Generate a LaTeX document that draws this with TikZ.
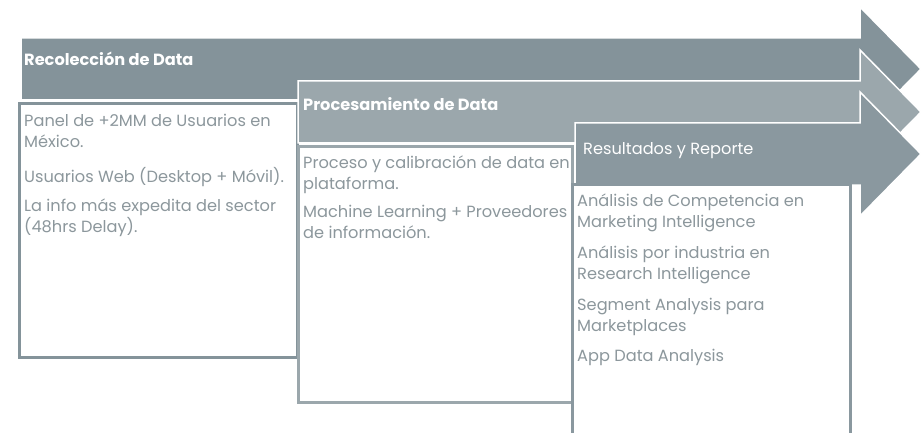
\documentclass[tikz,border=0pt]{standalone}
\usepackage{fontspec}
\setmainfont{Poppins}
\usepackage{xcolor}
\usetikzlibrary{positioning}
\definecolor{slatedark}{HTML}{84939A}
\definecolor{slatelight}{HTML}{9BA7AC}
\definecolor{slatemid}{HTML}{8A989F}
\definecolor{bodygray}{HTML}{8C979C}

\tikzset{
  phasearrow/.style={draw=white, line width=1.5pt, line join=miter},
  phasebox/.style={fill=white, line width=3pt},
  phasetitle/.style={anchor=base west, text=white, inner sep=0pt, font=\fontsize{16.2}{19}\selectfont},
  phasetext/.style={anchor=north west, text=bodygray, inner sep=0pt, align=left, font=\fontsize{16.2}{21}\selectfont},
}

\begin{document}
\begin{tikzpicture}[x=1pt,y=-1pt]
  \path[clip] (0,0) rectangle (921,433);
  \fill[white] (0,0) rectangle (921,433);

  % Recoleccion
  \filldraw[phasearrow, fill=slatedark] (21,38) -- (860,38) -- (860,7) -- (921,69) -- (860,131) -- (860,100) -- (21,100) -- cycle;
  \draw[phasebox, draw=slatedark] (19,104) rectangle (297,357);
  \node[phasetitle, font=\bfseries\fontsize{16.2}{19}\selectfont] (tit1) at (24,66) {Recolección de Data};
  % first baseline = top + 16
  \node[phasetext] (txt1) at (24,110) {\rule{0pt}{16pt}Panel de +2MM de Usuarios en\\México.\\[14pt]
    Usuarios Web (Desktop + Móvil).\\[8pt]
    La info más expedita del sector\\(48hrs Delay).};

  % Procesamiento
  \filldraw[phasearrow, fill=slatelight] (298,81) -- (860,81) -- (860,50) -- (921,112) -- (860,174) -- (860,143) -- (298,143) -- cycle;
  \draw[phasebox, draw=slatelight] (298,147) rectangle (572,402);
  \node[phasetitle, font=\bfseries\fontsize{16.2}{19}\selectfont] (tit2) at (303,111) {Procesamiento de Data};
  \node[phasetext] (txt2) at (303,152) {\rule{0pt}{16pt}Proceso y calibración de data en\\plataforma.\\[7pt]
    Machine Learning + Proveedores\\de información.};

  % Resultados
  \filldraw[phasearrow, fill=slatemid] (575,123) -- (860,123) -- (860,92) -- (921,154) -- (860,216) -- (860,185) -- (575,185) -- cycle;
  \draw[phasebox, draw=slatemid] (572,184) rectangle (850,445);
  \node[phasetitle] (tit3) at (583,154) {Resultados y Reporte};
  \node[phasetext] (txt3) at (577,190) {\rule{0pt}{16pt}Análisis de Competencia en\\Marketing Intelligence\\[10pt]
    Análisis por industria en\\Research Intelligence\\[10pt]
    Segment Analysis para\\Marketplaces\\[9pt]
    App Data Analysis};
\end{tikzpicture}
\end{document}
